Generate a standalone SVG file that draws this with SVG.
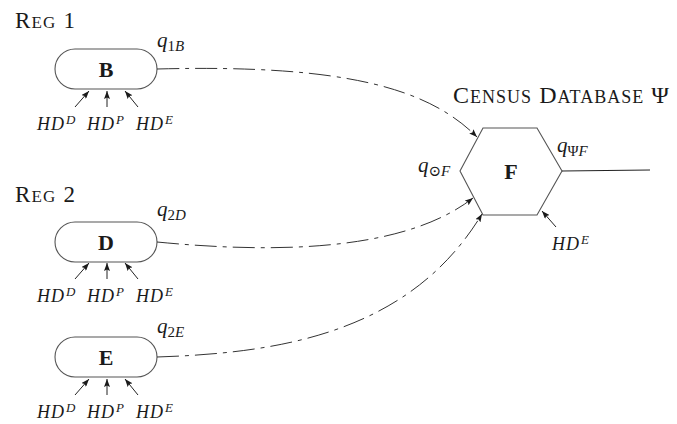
<svg xmlns="http://www.w3.org/2000/svg" width="677" height="424" viewBox="0 0 677 424">
  <style>
    .shape{fill:#fff;stroke:#555;stroke-width:1.1}
    .txt{font-family:"Liberation Serif","DejaVu Serif",serif;fill:#1a1a1a}
    .it{font-style:italic}
    .up{font-style:normal}
    .bold{font-weight:bold}
    .link{fill:none;stroke:#333;stroke-width:1;stroke-dasharray:22 6 4 6}
    .tick{stroke:#222;stroke-width:1;fill:none}
    .wire{stroke:#222;stroke-width:1.1;fill:none}
  </style>
  <defs>
    <marker id="ah" markerWidth="8" markerHeight="6" refX="8" refY="3" orient="auto" markerUnits="userSpaceOnUse">
      <path d="M0,0 L8,3 L0,6 L1.5,3 Z" fill="#1a1a1a"/>
    </marker>
    <!-- three household-data inputs under a register node (origin = node top-left) -->
    <g id="inputs">
      <line class="tick" x1="20" y1="58" x2="34" y2="42" marker-end="url(#ah)"/>
      <line class="tick" x1="52" y1="58" x2="52" y2="42" marker-end="url(#ah)"/>
      <line class="tick" x1="83" y1="58" x2="70" y2="42" marker-end="url(#ah)"/>
      <text class="txt it" font-size="18" y="81"><tspan x="-18">H</tspan><tspan x="-4">D</tspan><tspan x="11" dy="-6" font-size="13">D</tspan></text>
      <text class="txt it" font-size="18" y="81"><tspan x="32">H</tspan><tspan x="46">D</tspan><tspan x="61" dy="-6" font-size="13">P</tspan></text>
      <text class="txt it" font-size="18" y="81"><tspan x="81">H</tspan><tspan x="95">D</tspan><tspan x="110" dy="-6" font-size="13">E</tspan></text>
    </g>
  </defs>

  <!-- register titles -->
  <text class="txt" x="15" y="28" textLength="60" lengthAdjust="spacing"><tspan font-size="23">R</tspan><tspan font-size="17">EG</tspan><tspan font-size="23"> 1</tspan></text>
  <text class="txt" x="15" y="202" textLength="60" lengthAdjust="spacing"><tspan font-size="23">R</tspan><tspan font-size="17">EG</tspan><tspan font-size="23"> 2</tspan></text>

  <g id="node-B">
    <rect class="shape" x="55" y="49" width="102" height="40" rx="20"/>
    <text class="txt bold" x="106" y="77" font-size="22" text-anchor="middle">B</text>
    <text class="txt it" x="157" y="47" font-size="21">q<tspan dy="4" font-size="15" class="up">1</tspan><tspan font-size="15">B</tspan></text>
    <use href="#inputs" x="55" y="49"/>
  </g>

  <g id="node-D">
    <rect class="shape" x="55" y="222" width="102" height="40" rx="20"/>
    <text class="txt bold" x="106" y="250" font-size="22" text-anchor="middle">D</text>
    <text class="txt it" x="157" y="216" font-size="21">q<tspan dy="4" font-size="15" class="up">2</tspan><tspan font-size="15">D</tspan></text>
    <use href="#inputs" x="55" y="221"/>
  </g>

  <g id="node-E">
    <rect class="shape" x="55" y="337" width="102" height="40" rx="20"/>
    <text class="txt bold" x="106" y="365" font-size="22" text-anchor="middle">E</text>
    <text class="txt it" x="157" y="333" font-size="21">q<tspan dy="4" font-size="15" class="up">2</tspan><tspan font-size="15">E</tspan></text>
    <use href="#inputs" x="55" y="337"/>
  </g>

  <g id="node-F">
    <text class="txt" x="453" y="103" textLength="216" lengthAdjust="spacing"><tspan font-size="24">C</tspan><tspan font-size="18">ENSUS</tspan><tspan font-size="24"> D</tspan><tspan font-size="18">ATABASE</tspan><tspan font-size="24"> Ψ</tspan></text>
    <polygon class="shape" points="483,128 537,128 562,171 537,215 483,215 460,171"/>
    <text class="txt bold" x="511" y="179" font-size="22" text-anchor="middle">F</text>
    <text class="txt it" x="418" y="172" font-size="21">q<tspan dy="4" font-size="15" class="up">⊙</tspan><tspan font-size="15">F</tspan></text>
    <text class="txt it" x="557" y="152" font-size="21">q<tspan dy="4" font-size="15" class="up">Ψ</tspan><tspan font-size="15">F</tspan></text>
    <line class="wire" x1="562" y1="171" x2="650" y2="170"/>
    <line class="tick" x1="556" y1="227" x2="542" y2="211" marker-end="url(#ah)"/>
    <text class="txt it" font-size="18" y="250"><tspan x="552">H</tspan><tspan x="566">D</tspan><tspan x="581" dy="-6" font-size="13">E</tspan></text>
  </g>

  <g id="connectors">
    <path class="link" d="M157,69 C350,64 430,90 477,137" marker-end="url(#ah)"/>
    <path class="link" d="M157,242 C260,252 400,255 473,198" marker-end="url(#ah)"/>
    <path class="link" d="M157,357 C280,353 410,333 482,214" marker-end="url(#ah)"/>
  </g>
</svg>
